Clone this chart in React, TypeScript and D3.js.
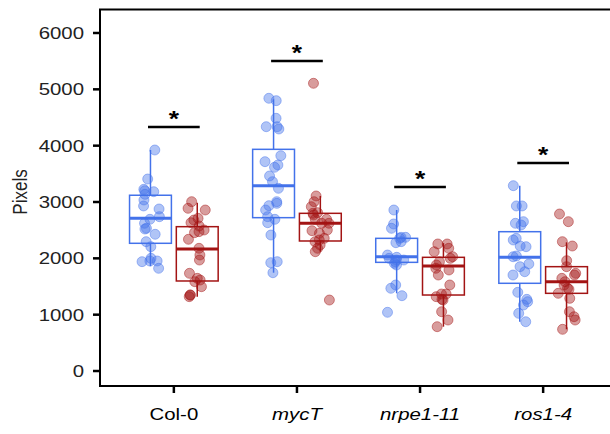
import React from 'react';
import * as d3 from 'd3';

// genotypes on the x axis
const genotypes = ['Col-0', 'mycT', 'nrpe1-11', 'ros1-4'];
const italicLabel = [false, true, true, true];
const yTicks = [0, 1000, 2000, 3000, 4000, 5000, 6000];

const blueCol0 = [3923, 3408, 3225, 3183, 3200, 3136, 3036, 2930, 2876, 2740, 2693, 2622, 2533, 2521, 2427, 2296, 2207, 2000, 1953, 1953, 1941, 1823];
const redCol0 = [3006, 2888, 2858, 2710, 2680, 2633, 2574, 2503, 2456, 2474, 2338, 2178, 2059, 1970, 1734, 1645, 1615, 1586, 1497, 1349, 1349, 1320];
const blueMycT = [4841, 4799, 4486, 4337, 4337, 4296, 3822, 3716, 3657, 3616, 3462, 3361, 3243, 3006, 2976, 2935, 2858, 2740, 2693, 2633, 2414, 1941, 1923, 1745];
const redMycT = [5107, 3107, 3006, 2917, 2811, 2799, 2769, 2693, 2693, 2622, 2622, 2503, 2491, 2444, 2326, 2355, 2296, 2237, 2178, 2118, 1260];
const blueNrpe = [2858, 2610, 2533, 2373, 2373, 2355, 2296, 2278, 2059, 2018, 2000, 1970, 1970, 1941, 1911, 1882, 1527, 1468, 1337, 1042];
const redNrpe = [2255, 2255, 2178, 2118, 2029, 2000, 1941, 1882, 1823, 1793, 1704, 1527, 1367, 1367, 1320, 1272, 1260, 1053, 905, 787];
const blueRos = [3290, 2930, 2930, 2651, 2622, 2592, 2355, 2326, 2219, 2207, 2029, 2042, 1900, 1852, 1763, 1704, 1397, 1272, 1231, 1172, 1024, 875];
const redRos = [2787, 2651, 2296, 2219, 1959, 1852, 1734, 1704, 1645, 1586, 1527, 1468, 1450, 1379, 1290, 1053, 964, 905, 740];

// box stats [lower whisker, q1, median, q3, upper whisker]
const blueStats = [
  [1860, 2267, 2710, 3120, 3923],
  [1745, 2722, 3290, 3935, 4823],
  [1379, 1929, 2029, 2355, 2858],
  [875, 1557, 2018, 2473, 3290],
];
const redStats = [
  [1320, 1598, 2166, 2562, 2988],
  [2118, 2308, 2622, 2799, 3107],
  [787, 1349, 1864, 2018, 2270],
  [740, 1379, 1586, 1852, 2284],
];
// height of the significance bars
const sigHeights = [4332, 5503, 3266, 3692];

const blueValues = [blueCol0, blueMycT, blueNrpe, blueRos];
const redValues = [redCol0, redMycT, redNrpe, redRos];

const W = 610;
const H = 434;
const left = 100;
const right = 617;
const top = 9.5;
const bottom = 386;
const font = '"Liberation Sans", Arial, sans-serif';
const stretch = 'scale(1.2,1)';

const BLUE = '#4372ea';
const RED = '#a31414';

export default function App() {
  const x = d3.scalePoint<string>().domain(genotypes).range([left, right]).padding(0.6);
  const step = x.step();
  const y = d3.scaleLinear().domain([-266, 6417]).range([bottom, top]);
  const dodge = 0.19 * step;
  const boxW = 0.34 * step;

  const rng = d3.randomLcg(0.42);
  const jitter = () => (rng() - 0.5) * 0.15 * step;

  const series = [
    { values: blueValues, stats: blueStats, color: BLUE, off: -dodge },
    { values: redValues, stats: redStats, color: RED, off: dodge },
  ];

  return (
    <svg width={W} height={H} style={{ position: 'absolute', left: 0, top: 0 }}>
      <rect width={W} height={H} fill="#fff" />

      {/* y axis */}
      {yTicks.map(t => (
        <g key={t}>
          <line x1={left - 7} x2={left} y1={y(t)} y2={y(t)} stroke="#000" strokeWidth={2.5} />
          <text transform={`translate(${left - 16},${y(t)}) ${stretch}`} dy="0.36em" textAnchor="end"
            fontFamily={font} fontSize={17} fill="#222">{t}</text>
        </g>
      ))}
      <text transform={`translate(27,192) ${stretch} rotate(-90)`} textAnchor="middle"
        fontFamily={font} fontSize={17} fill="#222">Pixels</text>

      {/* x axis */}
      {genotypes.map((g, i) => (
        <g key={g}>
          <line x1={x(g)} x2={x(g)} y1={bottom} y2={bottom + 7} stroke="#000" strokeWidth={2.5} />
          <text transform={`translate(${x(g)},${bottom + 34}) ${stretch}`} textAnchor="middle"
            fontFamily={font} fontSize={17} fontStyle={italicLabel[i] ? 'italic' : 'normal'} fill="#000">{g}</text>
        </g>
      ))}

      {/* boxes */}
      {series.map((s, si) =>
        genotypes.map((g, i) => {
          const [lo, q1, med, q3, hi] = s.stats[i];
          const cx = (x(g) as number) + s.off;
          return (
            <g key={`b${si}-${g}`} stroke={s.color} fill="none">
              <line x1={cx} x2={cx} y1={y(hi)} y2={y(q3)} strokeWidth={1.5} />
              <line x1={cx} x2={cx} y1={y(q1)} y2={y(lo)} strokeWidth={1.5} />
              <rect x={cx - boxW / 2} y={y(q3)} width={boxW} height={y(q1) - y(q3)} strokeWidth={1.5} />
              <line x1={cx - boxW / 2} x2={cx + boxW / 2} y1={y(med)} y2={y(med)} strokeWidth={3} />
            </g>
          );
        })
      )}

      {/* points */}
      {series.map((s, si) =>
        genotypes.map((g, i) =>
          s.values[i].map((v, k) => (
            <circle key={`p${si}-${i}-${k}`} cx={(x(g) as number) + s.off + jitter()} cy={y(v)} r={5}
              fill={s.color} fillOpacity={0.42} stroke={s.color} strokeOpacity={0.45} strokeWidth={1} />
          ))
        )
      )}

      {/* significance */}
      {genotypes.map((g, i) => (
        <g key={`s${g}`}>
          <line x1={(x(g) as number) - 0.21 * step} x2={(x(g) as number) + 0.21 * step}
            y1={y(sigHeights[i])} y2={y(sigHeights[i])} stroke="#000" strokeWidth={2.5} />
          <text transform={`translate(${x(g)},${y(sigHeights[i]) - 1}) ${stretch}`} textAnchor="middle"
            fontFamily={font} fontSize={22} fontWeight="bold" fill="#000">*</text>
        </g>
      ))}

      {/* panel border */}
      <rect x={left} y={top} width={right - left} height={bottom - top} fill="none" stroke="#000" strokeWidth={2} />
    </svg>
  );
}
